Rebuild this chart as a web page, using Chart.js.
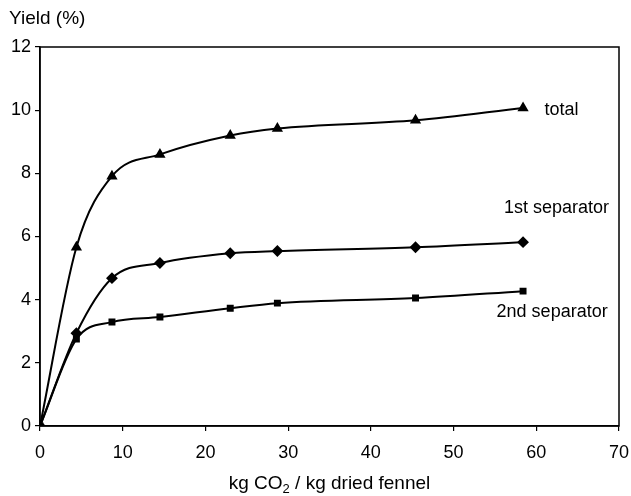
<!DOCTYPE html>
<html>
<head>
<meta charset="utf-8">
<script src="https://cdn.jsdelivr.net/npm/chart.js@4.4.0/dist/chart.umd.min.js"></script>
<style>
  html, body { margin: 0; padding: 0; background: #fff; }
  #wrap { width: 631px; height: 496px; }
</style>
</head>
<body>
<div id="wrap"><canvas id="chart"></canvas></div>
<script>
// kg CO2 per kg dried fennel
const co2 = [0, 4.4, 8.7, 14.5, 23.0, 28.7, 45.4, 58.4];

// yield (%)
const totalYield = [0, 5.66, 7.91, 8.6, 9.2, 9.42, 9.68, 10.07];
const firstSep = [0, 2.94, 4.68, 5.16, 5.47, 5.54, 5.66, 5.82];
const secondSep = [0, 2.75, 3.29, 3.45, 3.73, 3.89, 4.05, 4.27];

const seriesNames = ['total', '1st separator', '2nd separator'];
const xTicks = [0, 10, 20, 30, 40, 50, 60, 70];
const yTicks = [0, 2, 4, 6, 8, 10, 12];

const FONT = 'Liberation Sans, Arial, sans-serif';

const toPoints = (ys) => co2.map((x, i) => ({ x: x, y: ys[i] }));

const makeSet = (label, ys, style) => ({
    label: label,
    data: toPoints(ys),
    borderColor: '#000',
    backgroundColor: '#000',
    borderWidth: 2,
    pointStyle: style,
    pointRadius: style === 'rect' ? 3.5 : 4.5,
    cubicInterpolationMode: 'monotone',
    fill: false
});

// labels next to curves, box round plot, axis titles
const annotations = {
    id: 'annotations',
    afterDraw(chart) {
        const { ctx, chartArea, scales } = chart;
        ctx.save();
        ctx.strokeStyle = '#000';
        ctx.lineWidth = 1.5;
        ctx.strokeRect(chartArea.left, chartArea.top, chartArea.right - chartArea.left, chartArea.bottom - chartArea.top);

        ctx.fillStyle = '#000';
        ctx.textBaseline = 'middle';
        ctx.textAlign = 'left';
        ctx.font = '19px ' + FONT;
        ctx.fillText('Yield (%)', 9, 19);

        // x title with subscript
        const parts = ['kg CO', '2', ' / kg dried fennel'];
        const big = '19px ' + FONT, small = '13px ' + FONT;
        ctx.font = big;
        const w0 = ctx.measureText(parts[0]).width;
        const w2 = ctx.measureText(parts[2]).width;
        ctx.font = small;
        const w1 = ctx.measureText(parts[1]).width;
        let x = (chartArea.left + chartArea.right) / 2 - (w0 + w1 + w2) / 2;
        const y = 484;
        ctx.font = big;
        ctx.fillText(parts[0], x, y);
        x += w0;
        ctx.font = small;
        ctx.fillText(parts[1], x, y + 5);
        x += w1;
        ctx.font = big;
        ctx.fillText(parts[2], x, y);

        ctx.font = '18px ' + FONT;
        const spots = [[61.0, 10.0], [56.1, 6.9], [55.2, 3.62]];
        spots.forEach((s, i) => {
            ctx.fillText(seriesNames[i], scales.x.getPixelForValue(s[0]), scales.y.getPixelForValue(s[1]));
        });
        ctx.restore();
    }
};

new Chart(document.getElementById('chart'), {
    type: 'line',
    data: {
        datasets: [
            makeSet(seriesNames[0], totalYield, 'triangle'),
            makeSet(seriesNames[1], firstSep, 'rectRot'),
            makeSet(seriesNames[2], secondSep, 'rect')
        ]
    },
    options: {
        responsive: true,
        maintainAspectRatio: false,
        animation: false,
        layout: { padding: { left: 0, top: 47, right: 12, bottom: 0 } },
        plugins: {
            legend: { display: false },
            tooltip: { enabled: false }
        },
        scales: {
            x: {
                type: 'linear',
                min: 0,
                max: 70,
                afterBuildTicks: (scale) => { scale.ticks = xTicks.map(v => ({ value: v })); },
                afterFit: (scale) => {
                    scale.height = 70;
                    scale.paddingLeft = 0;
                    scale.paddingRight = 0;
                },
                grid: { display: true, drawOnChartArea: false, tickLength: 5, color: '#000', lineWidth: 1.2 },
                border: { color: '#000', width: 1.5 },
                ticks: { color: '#000', font: { family: FONT, size: 18 }, padding: 11, maxRotation: 0 }
            },
            y: {
                min: 0,
                max: 12,
                afterBuildTicks: (scale) => { scale.ticks = yTicks.map(v => ({ value: v })); },
                afterFit: (scale) => {
                    scale.width = 40;
                    scale.paddingTop = 0;
                    scale.paddingBottom = 0;
                },
                grid: { display: true, drawOnChartArea: false, tickLength: 5, color: '#000', lineWidth: 1.2 },
                border: { color: '#000', width: 1.5 },
                ticks: { color: '#000', font: { family: FONT, size: 18 }, padding: 4 }
            }
        }
    },
    plugins: [annotations]
});
</script>
</body>
</html>
